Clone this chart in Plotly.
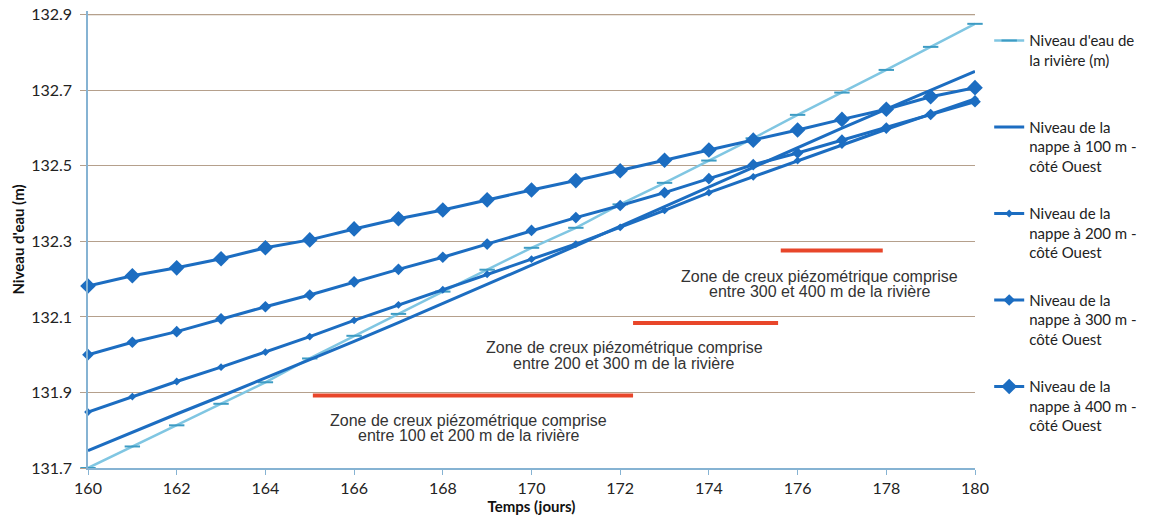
import plotly.graph_objects as go

# ---------------- data ----------------
days = list(range(160, 181))

river = [131.70, 131.757, 131.813, 131.87, 131.927, 131.99, 132.05, 132.108, 132.167, 132.225,
         132.283, 132.336, 132.398, 132.455, 132.514, 132.573, 132.635, 132.694, 132.754, 132.815, 132.876]
nappe_100 = [131.746, 131.795, 131.843, 131.89, 131.938, 131.986, 132.035, 132.085, 132.135, 132.186,
             132.237, 132.288, 132.34, 132.393, 132.445, 132.497, 132.55, 132.60, 132.65, 132.70, 132.75]
nappe_200 = [131.848, 131.889, 131.929, 131.967, 132.007, 132.048, 132.091, 132.132, 132.172, 132.213,
             132.253, 132.293, 132.337, 132.382, 132.429, 132.471, 132.514, 132.555, 132.597, 132.637, 132.677]
nappe_300 = [132.0, 132.033, 132.061, 132.095, 132.127, 132.158, 132.193, 132.226, 132.258, 132.293,
             132.329, 132.363, 132.395, 132.429, 132.466, 132.503, 132.534, 132.568, 132.60, 132.636, 132.67]
nappe_400 = [132.182, 132.209, 132.23, 132.254, 132.283, 132.304, 132.333, 132.36, 132.383, 132.41,
             132.436, 132.461, 132.487, 132.515, 132.542, 132.568, 132.595, 132.623, 132.65, 132.683, 132.707]

series_names = [
    "Niveau d'eau de<br>la rivière (m)<br>\u00a0",
    "Niveau de la<br>nappe à 100 m -<br>côté Ouest",
    "Niveau de la<br>nappe à 200 m -<br>côté Ouest",
    "Niveau de la<br>nappe à 300 m -<br>côté Ouest",
    "Niveau de la<br>nappe à 400 m -<br>côté Ouest",
]

zone_start = [165.07, 172.29, 175.62]
zone_end = [172.29, 175.56, 177.92]
zone_level = [131.892, 132.084, 132.276]
zone_line1 = ["Zone de creux piézométrique comprise"] * 3
zone_line2 = ["entre 100 et 200 m de la rivière",
              "entre 200 et 300 m de la rivière",
              "entre 300 et 400 m de la rivière"]

x_ticks = list(range(160, 181, 2))
y_ticks = [131.7, 131.9, 132.1, 132.3, 132.5, 132.7, 132.9]

# ---------------- styles ----------------
DARK = "#1C6DC1"
LIGHT = "#80C6E2"
LIGHT_MK = "#3E9CC4"
RED = "#E8462A"
GRID = "#B5A08C"
AXIS = "#86B3D3"
FONT = "Lato"

fig = go.Figure()

fig.add_trace(go.Scatter(
    x=days, y=river, name=series_names[0], mode="lines+markers",
    line=dict(color=LIGHT, width=2.5),
    marker=dict(symbol="line-ew", size=11, color=LIGHT_MK, line=dict(color=LIGHT_MK, width=2)),
    legendgroup="g0", cliponaxis=False))

fig.add_trace(go.Scatter(
    x=days, y=nappe_100, name=series_names[1], mode="lines",
    line=dict(color=DARK, width=3), legendgroup="g1", cliponaxis=False))

fig.add_trace(go.Scatter(
    x=days, y=nappe_200, name=series_names[2], mode="lines+markers",
    line=dict(color=DARK, width=3),
    marker=dict(symbol="diamond", size=6, color=DARK), legendgroup="g2", cliponaxis=False))

fig.add_trace(go.Scatter(
    x=days, y=nappe_300, name=series_names[3], mode="lines+markers",
    line=dict(color=DARK, width=3),
    marker=dict(symbol="diamond", size=9, color=DARK), legendgroup="g3", cliponaxis=False))

fig.add_trace(go.Scatter(
    x=days, y=nappe_400, name=series_names[4], mode="lines+markers",
    line=dict(color=DARK, width=3),
    marker=dict(symbol="diamond", size=12, color=DARK), legendgroup="g4", cliponaxis=False))

# red zone bars
for s, e, lv in zip(zone_start, zone_end, zone_level):
    fig.add_trace(go.Scatter(
        x=[s, e], y=[lv, lv], mode="lines", showlegend=False, hoverinfo="skip",
        line=dict(color=RED, width=4)))

# zone labels (two lines each, tight line spacing)
label_x = [168.58, 172.09, 176.5]
label_y1 = [131.826, 132.018, 132.207]
label_y2 = [131.786, 131.978, 132.168]
for i in range(3):
    for txt, yy in ((zone_line1[i], label_y1[i]), (zone_line2[i], label_y2[i])):
        fig.add_annotation(x=label_x[i], y=yy, xref="x", yref="y", text=txt,
                           showarrow=False, xanchor="center", yanchor="middle",
                           font=dict(family="Liberation Sans", size=16, color="#333333"))

# top gridline drawn explicitly so it is always visible
fig.add_shape(type="line", xref="paper", yref="y", x0=0, x1=1,
              y0=y_ticks[-1], y1=y_ticks[-1], layer="below",
              line=dict(color=GRID, width=1))

fig.update_layout(
    width=1157, height=523,
    margin=dict(l=88, r=182, t=11, b=55, autoexpand=False),
    paper_bgcolor="white", plot_bgcolor="white",
    font=dict(family=FONT, color="#222222"),
    legend=dict(x=1.016, y=0.971, xanchor="left", yanchor="top",
                font=dict(family=FONT, size=15, color="#222222"),
                valign="top", tracegroupgap=25, bgcolor="rgba(0,0,0,0)",
                itemclick=False),
    showlegend=True,
)

fig.update_xaxes(
    automargin=False,
    range=[160, 180], tickvals=x_ticks, ticktext=[str(v) for v in x_ticks],
    showgrid=False, zeroline=False,
    showline=True, linecolor=AXIS, linewidth=1.5,
    ticks="outside", ticklen=5, tickcolor=AXIS,
    tickfont=dict(family=FONT, size=16, color="#222222"),
    title=dict(text="<b>Temps (jours)</b>", font=dict(family=FONT, size=15, color="#111111"),
               standoff=2),
)
fig.update_yaxes(
    automargin=False,
    range=[131.7, 132.91], tickvals=y_ticks, ticktext=[f"{v:.1f}" for v in y_ticks],
    showgrid=True, gridcolor=GRID, gridwidth=1, zeroline=False,
    showline=True, linecolor=AXIS, linewidth=1.5,
    ticks="outside", ticklen=6, tickcolor=GRID, ticklabelstandoff=5,
    tickfont=dict(family=FONT, size=16, color="#222222"),
    title=dict(text="<b>Niveau d'eau (m)</b>", font=dict(family=FONT, size=15, color="#111111"),
               standoff=3),
)

# remove the default 8px page margin so the figure fills the window exactly
fig.write_html("out.html", config={"displayModeBar": False},
               post_script="document.body.style.margin='0';document.body.style.overflow='hidden';")
